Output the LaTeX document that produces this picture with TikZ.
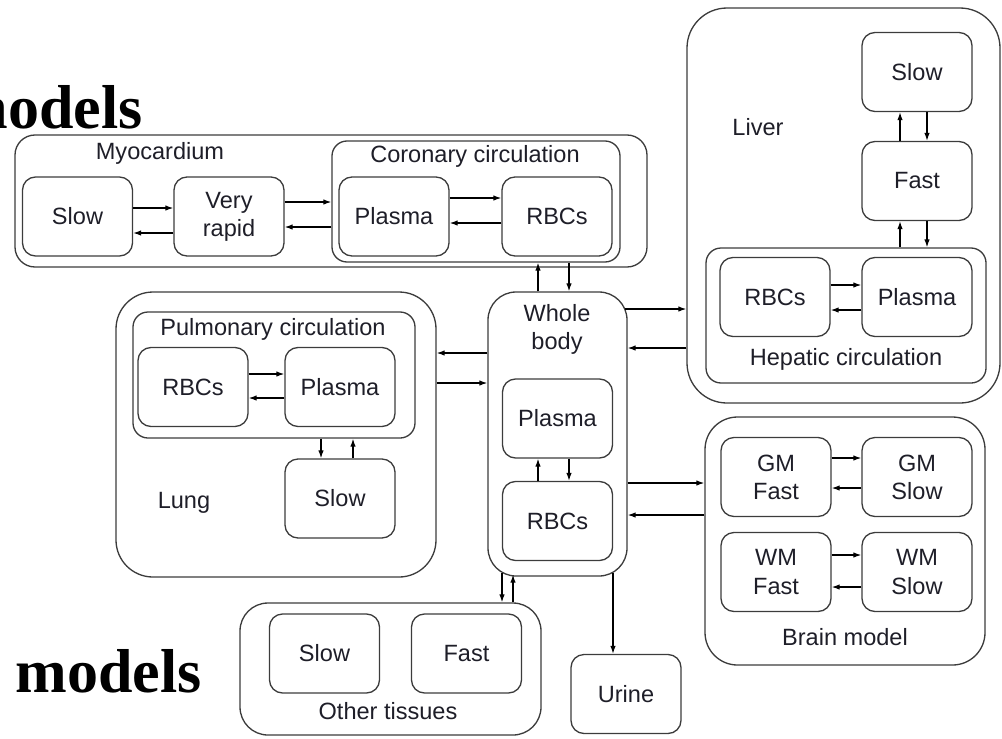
\documentclass[tikz,border=0pt]{standalone}
\usepackage{fontspec}
\setmainfont{Liberation Sans}
\newfontfamily\headserif{Liberation Serif}
\usetikzlibrary{positioning,arrows.meta,fit,calc}
\definecolor{ink}{HTML}{1E1E28}
\definecolor{edge}{HTML}{3C3C3C}
\newcommand{\lbl}{\fontsize{13.4pt}{16pt}\selectfont}
\tikzset{
  cmp/.style  ={draw=edge, line width=.75pt, rounded corners=2.6mm, minimum width=22mm, minimum height=15.8mm, inner sep=0pt, align=center, font=\lbl, text=ink},
  grp/.style  ={draw=edge, line width=.75pt, inner sep=0pt},
  tag/.style  ={font=\lbl, text=ink, align=center, inner sep=0pt},
  ln/.style   ={draw=black, line width=.7pt, -{Latex[length=1.6mm,width=1.1mm]}},
  big/.style  ={font=\headserif\bfseries\fontsize{35.3pt}{40pt}\selectfont, anchor=base west, inner sep=0pt},
}

\begin{document}
\begin{tikzpicture}[x=0.2mm,y=-0.2mm]
    \useasboundingbox (0,0) rectangle (1002,738);

    \node[big] (ttop) at (-44,128) {models};
    \node[big] (tbot) at (15,692) {models};

    % myocardium
    \node[grp,rounded corners=4mm,fit={(15,135) (647,267)}] (myo) {};
    \node[tag] (myolbl) at (160,153) {Myocardium};
    \node[cmp] (mslow)  at (77.5,216.5) {Slow};
    \node[cmp] (mrapid) at (229,216.5) {Very\\rapid};
    \node[grp,rounded corners=3mm,fit={(332,141) (620,262)}] (cor) {};
    \node[tag] (corlbl) at (475,156) {Coronary circulation};
    \node[cmp] (cplasma) at (394,216.5) {Plasma};
    \node[cmp] (crbc)    at (557,216.5) {RBCs};

    % liver
    \node[grp,rounded corners=8mm,fit={(687,8) (1000,403)}] (liver) {};
    \node[tag] (livlbl) at (758,127) {Liver};
    \node[cmp] (lslow) at (917,72) {Slow};
    \node[cmp] (lfast) at (917,181) {Fast};
    \node[grp,rounded corners=3mm,fit={(706,248) (986,383)}] (hep) {};
    \node[cmp] (hrbc)    at (775,297) {RBCs};
    \node[cmp] (hplasma) at (917,297) {Plasma};
    \node[tag] (heplbl) at (846,359) {Hepatic circulation};

    % lung
    \node[grp,rounded corners=7.4mm,fit={(116,292) (436,577)}] (lung) {};
    \node[grp,rounded corners=3mm,fit={(133,312) (415,438)}] (pulm) {};
    \node[tag] (pulmlbl) at (273,329) {Pulmonary circulation};
    \node[cmp] (prbc)    at (193,387) {RBCs};
    \node[cmp] (pplasma) at (340,387) {Plasma};
    \node[cmp] (pslow)   at (340,498.5) {Slow};
    \node[tag] (lunglbl) at (184,503) {Lung};

    % whole body
    \node[grp,rounded corners=5.6mm,fit={(488,292) (627,576)}] (wb) {};
    \node[tag] (wblbl) at (557,329) {Whole\\body};
    \node[cmp] (wplasma) at (557.5,418.5) {Plasma};
    \node[cmp] (wrbc)    at (557.5,521) {RBCs};

    % brain
    \node[grp,rounded corners=6.5mm,fit={(705,417) (985,665)}] (brain) {};
    \node[cmp] (gmf) at (776,477) {GM\\Fast};
    \node[cmp] (gms) at (917,477) {GM\\Slow};
    \node[cmp] (wmf) at (776,572) {WM\\Fast};
    \node[cmp] (wms) at (917,572) {WM\\Slow};
    \node[tag] (brainlbl) at (845,637) {Brain model};

    % other tissues, urine
    \node[grp,rounded corners=5.6mm,fit={(240,603) (541,735)}] (other) {};
    \node[cmp] (oslow) at (324.5,653.5) {Slow};
    \node[cmp] (ofast) at (466.5,653.5) {Fast};
    \node[tag] (othlbl) at (388,711) {Other tissues};
    \node[cmp] (urine) at (626,694) {Urine};

    % exchange inside groups
    \draw[ln] (mslow.east |- 0,208) -- (mrapid.west |- 0,208);
    \draw[ln] (mrapid.west |- 0,233) -- (mslow.east |- 0,233);
    \draw[ln] (mrapid.east |- 0,202) -- (cor.west |- 0,202);
    \draw[ln] (cor.west |- 0,227) -- (mrapid.east |- 0,227);
    \draw[ln] (cplasma.east |- 0,198) -- (crbc.west |- 0,198);
    \draw[ln] (crbc.west |- 0,223) -- (cplasma.east |- 0,223);

    \draw[ln] (lfast.north -| 900,0) -- (lslow.south -| 900,0);
    \draw[ln] (lslow.south -| 927,0) -- (lfast.north -| 927,0);
    \draw[ln] (hep.north -| 900,0) -- (lfast.south -| 900,0);
    \draw[ln] (lfast.south -| 927,0) -- (hep.north -| 927,0);
    \draw[ln] (hrbc.east |- 0,285) -- (hplasma.west |- 0,285);
    \draw[ln] (hplasma.west |- 0,310) -- (hrbc.east |- 0,310);

    \draw[ln] (prbc.east |- 0,374) -- (pplasma.west |- 0,374);
    \draw[ln] (pplasma.west |- 0,398) -- (prbc.east |- 0,398);
    \draw[ln] (pulm.south -| 321,0) -- (pslow.north -| 321,0);
    \draw[ln] (pslow.north -| 353,0) -- (pulm.south -| 353,0);

    \draw[ln] (wrbc.north -| 538,0) -- (wplasma.south -| 538,0);
    \draw[ln] (wplasma.south -| 569,0) -- (wrbc.north -| 569,0);

    \draw[ln] (gmf.east |- 0,458) -- (gms.west |- 0,458);
    \draw[ln] (gms.west |- 0,488) -- (gmf.east |- 0,488);
    \draw[ln] (wmf.east |- 0,555) -- (wms.west |- 0,555);
    \draw[ln] (wms.west |- 0,587) -- (wmf.east |- 0,587);

    % whole body to organs
    \draw[ln] (wb.north -| 538,0) -- (cor.south -| 538,0);
    \draw[ln] (cor.south -| 569,0) -- (wb.north -| 569,0);
    \draw[ln] (wb.west |- 0,353) -- (lung.east |- 0,353);
    \draw[ln] (lung.east |- 0,383) -- (wb.west |- 0,383);
    \draw[ln] ($(wb.east |- 0,309)+(-3,0)$) -- (liver.west |- 0,309);
    \draw[ln] (liver.west |- 0,348) -- (wb.east |- 0,348);
    \draw[ln] (wb.east |- 0,483) -- (brain.west |- 0,483);
    \draw[ln] (brain.west |- 0,515) -- (wb.east |- 0,515);
    \draw[ln] ($(wb.south -| 502,0)+(0,-4)$) -- (other.north -| 502,0);
    \draw[ln] (other.north -| 513,0) -- ($(wb.south -| 513,0)+(0,-2)$);
    \draw[ln] ($(wb.south -| 613,0)+(0,-4)$) -- (urine.north -| 613,0);
  \end{tikzpicture}
\end{document}
